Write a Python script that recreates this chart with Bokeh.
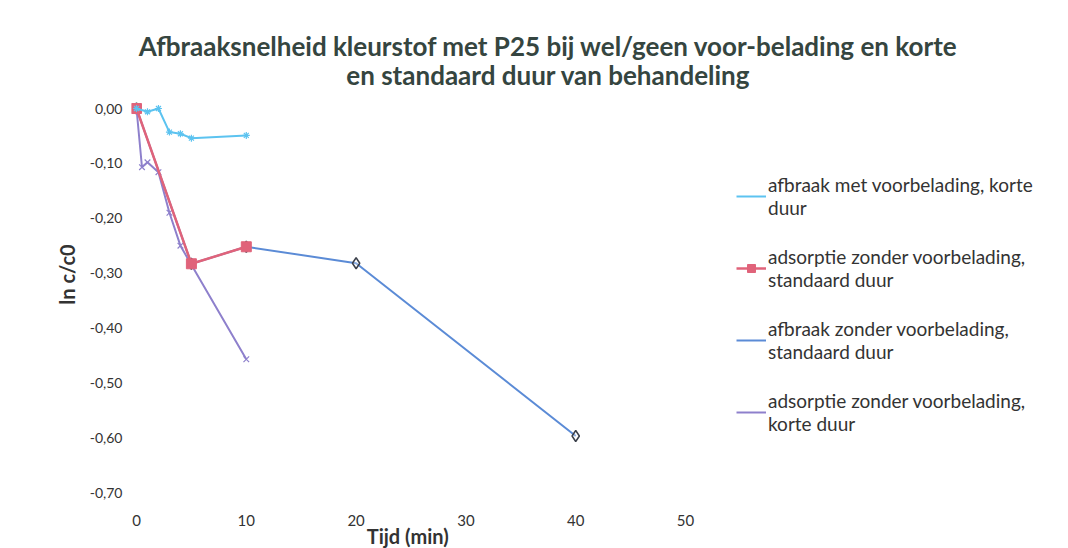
from bokeh.plotting import figure
from bokeh.models import Range1d, FixedTicker, CustomJSTickFormatter, Legend, LegendItem, Label
from bokeh.embed import file_html
from bokeh.resources import INLINE

title_lines = ["Afbraaksnelheid kleurstof met P25 bij wel/geen voor-belading en korte",
               "en standaard duur van behandeling"]
x_label = "Tijd (min)"
y_label = "ln c/c0"

s1_name = "afbraak met voorbelading, korte\nduur"
s1_x = [0, 1, 2, 3, 4, 5, 10]
s1_y = [0.0, -0.006, 0.0, -0.043, -0.046, -0.054, -0.049]

s2_name = "adsorptie zonder voorbelading,\nstandaard duur"
s2_x = [0, 5, 10]
s2_y = [0.0, -0.283, -0.252]

s3_name = "afbraak zonder voorbelading,\nstandaard duur"
s3_x = [0, 5, 10, 20, 40]
s3_y = [0.0, -0.283, -0.252, -0.282, -0.597]

s4_name = "adsorptie zonder voorbelading,\nkorte duur"
s4_x = [0, 0.5, 1, 2, 3, 4, 5, 10]
s4_y = [0.0, -0.107, -0.098, -0.116, -0.19, -0.25, -0.285, -0.457]

x_ticks = [0, 10, 20, 30, 40, 50]
y_ticks = [0.0, -0.1, -0.2, -0.3, -0.4, -0.5, -0.6, -0.7]
y_axis_min = -0.7

FONT = "Lato"
TXT = "#333333"

p = figure(width=1060, height=548, output_backend="svg", toolbar_location=None,
           title=None,
           x_range=Range1d(-0.455, 84.15), y_range=Range1d(-0.802, 0.1969),
           min_border_left=131, min_border_right=0, min_border_top=0, min_border_bottom=0)
p.background_fill_color = "white"
p.border_fill_color = "white"
p.outline_line_color = None
p.xgrid.grid_line_color = None
p.ygrid.grid_line_color = None

for ax in (p.xaxis[0], p.yaxis[0]):
    ax.axis_line_color = None
    ax.major_tick_line_color = None
    ax.minor_tick_line_color = None
    ax.major_tick_out = 0
    ax.major_tick_in = 0
    ax.minor_tick_out = 0
    ax.minor_tick_in = 0
    ax.major_label_text_font = FONT
    ax.major_label_text_color = TXT
    ax.axis_label_text_font = FONT
    ax.axis_label_text_font_style = "bold"
    ax.axis_label_text_color = TXT

p.xaxis[0].ticker = FixedTicker(ticks=x_ticks)
p.xaxis[0].fixed_location = y_axis_min
p.xaxis[0].major_label_text_font_size = "15px"
p.xaxis[0].major_label_standoff = 22

p.yaxis[0].ticker = FixedTicker(ticks=y_ticks)
p.yaxis[0].formatter = CustomJSTickFormatter(code="return Math.abs(tick) < 1e-9 ? '0,00' : tick.toFixed(2).replace('.', ',');")
p.yaxis[0].major_label_text_font_size = "14px"
p.yaxis[0].axis_label = y_label
p.yaxis[0].axis_label_text_font_size = "20px"
p.yaxis[0].major_label_standoff = 9
p.yaxis[0].axis_label_standoff = 8

c1 = "#5cc3f0"
c2 = "#e0637a"
c3 = "#5b8bd6"
c4 = "#8e80cc"

r3l = p.line(s3_x, s3_y, line_color=c3, line_width=2)
r3m = p.scatter(s3_x, s3_y, marker="diamond", size=11, fill_color="white", fill_alpha=0.3,
                line_color="#3a3f4a", line_width=1.5)
r4l = p.line(s4_x, s4_y, line_color=c4, line_width=2)
r4m = p.scatter(s4_x, s4_y, marker="x", size=8, line_color=c4, line_width=1.2)
r2l = p.line(s2_x, s2_y, line_color=c2, line_width=2.5)
r2m = p.scatter(s2_x, s2_y, marker="square", size=10, fill_color=c2, line_color=c2)
r1l = p.line(s1_x, s1_y, line_color=c1, line_width=2)
r1m = p.scatter(s1_x, s1_y, marker="asterisk", size=7, line_color=c1, line_width=1.2)

legend = Legend(items=[
    LegendItem(label=s1_name, renderers=[r1l]),
    LegendItem(label=s2_name, renderers=[r2l, r2m]),
    LegendItem(label=s3_name, renderers=[r3l]),
    LegendItem(label=s4_name, renderers=[r4l]),
], location=(605, 113))
legend.margin = 0
legend.padding = 6
legend.border_line_color = None
legend.background_fill_alpha = 0
legend.label_text_font = FONT
legend.label_text_font_size = "19px"
legend.label_text_color = TXT
legend.glyph_width = 30
legend.glyph_height = 20
legend.label_standoff = 2
legend.spacing = 26
p.add_layout(legend, "center")

for txt, yv in zip(title_lines, [0.1148, 0.0602]):
    p.add_layout(Label(x=37.52, y=yv, text=txt, text_align="center", text_baseline="middle",
                       text_font=FONT, text_font_size="26px", text_font_style="bold",
                       text_color="#354540"))

p.add_layout(Label(x=24.7, y=-0.779, text=x_label, text_align="center", text_baseline="middle",
                   text_font=FONT, text_font_size="20px", text_font_style="bold",
                   text_color=TXT))

open("out.html", "w").write(file_html(p, INLINE))
